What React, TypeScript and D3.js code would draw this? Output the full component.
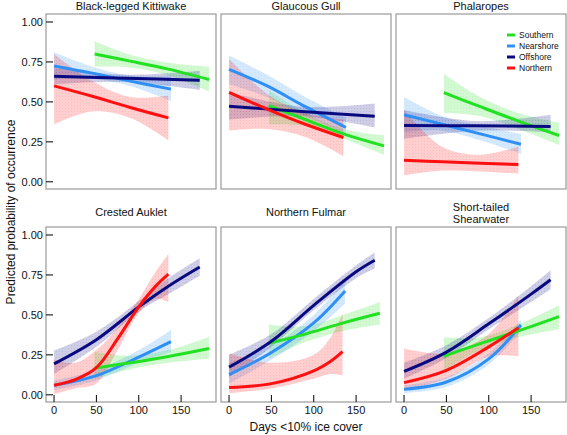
import React from "react";
import * as d3 from "d3";

// ---- Data: [day, fit, lower, upper] ----
const panelTitles = [
  ["Black-legged Kittiwake"],
  ["Glaucous Gull"],
  ["Phalaropes"],
  ["Crested Auklet"],
  ["Northern Fulmar"],
  ["Short-tailed", "Shearwater"],
];
const regions = ["Southern", "Nearshore", "Offshore", "Northern"];
const regionColors = ["#22e022", "#2f8ff5", "#0a0a80", "#ff1010"];
const yTicks = [0, 0.25, 0.5, 0.75, 1];
const xTicks = [0, 50, 100, 150];

// Black-legged Kittiwake
const kittiwakeSouthern = [[48, 0.8, 0.72, 0.88], [90, 0.755, 0.715, 0.795], [135, 0.705, 0.665, 0.745], [183, 0.64, 0.565, 0.72]];
const kittiwakeNearshore = [[0, 0.725, 0.64, 0.81], [45, 0.68, 0.645, 0.72], [90, 0.63, 0.6, 0.665], [138, 0.58, 0.505, 0.66]];
const kittiwakeOffshore = [[0, 0.66, 0.61, 0.71], [86, 0.648, 0.625, 0.67], [172, 0.635, 0.575, 0.695]];
const kittiwakeNorthern = [[0, 0.6, 0.36, 0.8], [45, 0.535, 0.44, 0.63], [90, 0.465, 0.4, 0.53], [135, 0.4, 0.26, 0.54]];

// Glaucous Gull
const gullSouthern = [[47, 0.477, 0.36, 0.575], [90, 0.39, 0.35, 0.43], [135, 0.3, 0.27, 0.33], [183, 0.225, 0.17, 0.29]];
const gullNearshore = [[0, 0.704, 0.61, 0.79], [45, 0.6, 0.53, 0.67], [90, 0.47, 0.41, 0.53], [138, 0.34, 0.3, 0.4]];
const gullOffshore = [[0, 0.473, 0.39, 0.56], [86, 0.44, 0.41, 0.47], [172, 0.41, 0.34, 0.49]];
const gullNorthern = [[0, 0.56, 0.32, 0.77], [45, 0.455, 0.33, 0.55], [90, 0.36, 0.28, 0.43], [135, 0.277, 0.16, 0.39]];

// Phalaropes
const phalaropeSouthern = [[47, 0.558, 0.43, 0.675], [90, 0.47, 0.41, 0.53], [135, 0.38, 0.33, 0.43], [183, 0.29, 0.23, 0.37]];
const phalaropeNearshore = [[0, 0.42, 0.31, 0.53], [45, 0.36, 0.32, 0.41], [90, 0.3, 0.26, 0.35], [138, 0.235, 0.175, 0.3]];
const phalaropeOffshore = [[0, 0.352, 0.27, 0.45], [86, 0.35, 0.32, 0.38], [173, 0.346, 0.31, 0.42]];
const phalaropeNorthern = [[0, 0.135, 0.04, 0.45], [45, 0.125, 0.07, 0.22], [90, 0.116, 0.065, 0.17], [135, 0.108, 0.05, 0.22]];

// Crested Auklet
const aukletSouthern = [[47.6, 0.167, 0.1, 0.27], [90, 0.2, 0.16, 0.245], [135, 0.24, 0.2, 0.28], [183, 0.29, 0.225, 0.364]];
const aukletNearshore = [[0, 0.059, 0.03, 0.09], [50, 0.12, 0.09, 0.155], [100, 0.236, 0.2, 0.28], [138, 0.333, 0.267, 0.406]];
const aukletOffshore = [[0, 0.194, 0.13, 0.277], [50, 0.345, 0.3, 0.395], [100, 0.55, 0.52, 0.585], [135, 0.68, 0.63, 0.73], [172, 0.8, 0.745, 0.855]];
const aukletNorthern = [[0, 0.06, 0.005, 0.22], [25, 0.095, 0.04, 0.2], [50, 0.17, 0.07, 0.28], [75, 0.35, 0.28, 0.42], [100, 0.55, 0.51, 0.6], [120, 0.68, 0.6, 0.77], [135, 0.755, 0.58, 0.88]];

// Northern Fulmar
const fulmarSouthern = [[47, 0.323, 0.225, 0.44], [90, 0.38, 0.33, 0.43], [135, 0.45, 0.4, 0.5], [178, 0.51, 0.44, 0.58]];
const fulmarNearshore = [[0, 0.126, 0.07, 0.2], [50, 0.265, 0.22, 0.31], [100, 0.45, 0.4, 0.5], [137, 0.65, 0.57, 0.72]];
const fulmarOffshore = [[0, 0.173, 0.11, 0.25], [50, 0.335, 0.3, 0.38], [100, 0.56, 0.53, 0.6], [150, 0.77, 0.73, 0.81], [172, 0.842, 0.79, 0.89]];
const fulmarNorthern = [[0, 0.045, 0.01, 0.26], [50, 0.07, 0.04, 0.2], [100, 0.15, 0.1, 0.25], [120, 0.21, 0.13, 0.36], [134, 0.27, 0.12, 0.505]];

// Short-tailed Shearwater
const shearwaterSouthern = [[47, 0.242, 0.15, 0.36], [90, 0.32, 0.28, 0.36], [135, 0.4, 0.36, 0.44], [183, 0.489, 0.41, 0.56]];
const shearwaterNearshore = [[0, 0.034, 0.01, 0.06], [50, 0.08, 0.05, 0.11], [100, 0.225, 0.19, 0.26], [138, 0.437, 0.4, 0.47]];
const shearwaterOffshore = [[0, 0.146, 0.1, 0.2], [50, 0.267, 0.23, 0.31], [100, 0.444, 0.41, 0.48], [150, 0.63, 0.58, 0.68], [173, 0.72, 0.66, 0.78]];
const shearwaterNorthern = [[0, 0.076, 0.03, 0.29], [50, 0.153, 0.1, 0.26], [100, 0.3, 0.24, 0.38], [135, 0.42, 0.24, 0.62]];

const panelSeries = [
  [kittiwakeSouthern, kittiwakeNearshore, kittiwakeOffshore, kittiwakeNorthern],
  [gullSouthern, gullNearshore, gullOffshore, gullNorthern],
  [phalaropeSouthern, phalaropeNearshore, phalaropeOffshore, phalaropeNorthern],
  [aukletSouthern, aukletNearshore, aukletOffshore, aukletNorthern],
  [fulmarSouthern, fulmarNearshore, fulmarOffshore, fulmarNorthern],
  [shearwaterSouthern, shearwaterNearshore, shearwaterOffshore, shearwaterNorthern],
];

// ---- Layout ----
const W = 567, H = 435;
const colLeft = [46, 221, 396];
const rowTop = [14, 227];
const PW = 170, PH = 175;
const FONT = "'Liberation Sans', Arial, Helvetica, sans-serif";
const lineOrder = [1, 0, 2, 3];

const x = d3.scaleLinear().domain([-9.5, 191.2]).range([0, PW]);
const y = d3.scaleLinear().domain([-0.045, 1.05]).range([PH, 0]);

const line = d3.line<number[]>().x(p => x(p[0])).y(p => y(p[1])).curve(d3.curveCatmullRom.alpha(0.5));
const band = d3.area<number[]>().x(p => x(p[0])).y0(p => y(p[2])).y1(p => y(p[3])).curve(d3.curveCatmullRom.alpha(0.5));

function Panel({ idx }: { idx: number }) {
  const col = idx % 3, row = Math.floor(idx / 3);
  const tx = colLeft[col], ty = rowTop[row];
  const series = panelSeries[idx];
  const title = panelTitles[idx];
  return (
    <g transform={`translate(${tx},${ty})`}>
      {title.length === 1 ? (
        <text x={PW / 2} y={row === 0 ? -4 : -11} textAnchor="middle" fontSize={11} fill="#111">{title[0]}</text>
      ) : (
        <text x={PW / 2} y={-16} textAnchor="middle" fontSize={11} fill="#111">
          <tspan x={PW / 2} dy={0}>{title[0]}</tspan>
          <tspan x={PW / 2} dy={12}>{title[1]}</tspan>
        </text>
      )}
      <g clipPath="url(#panelClip)">
        {series.map((s, i) => (
          <path key={"b" + i} d={band(s) || ""} fill={`url(#dots${i})`} stroke="none" />
        ))}
        {lineOrder.map(i => (
          <path key={"l" + i} d={line(series[i]) || ""} fill="none" stroke={regionColors[i]} strokeWidth={3} />
        ))}
      </g>
      <rect x={0} y={0} width={PW} height={PH} fill="none" stroke="#9a9a9a" strokeWidth={1.2} />
      {col === 0 && yTicks.map(t => (
        <g key={"yt" + t}>
          <line x1={0} x2={7} y1={y(t)} y2={y(t)} stroke="#000" strokeWidth={1} />
          <text x={-3} y={y(t) + 4} textAnchor="end" fontSize={11} fill="#111">{t.toFixed(2)}</text>
        </g>
      ))}
      {row === 1 && xTicks.map(t => (
        <g key={"xt" + t}>
          <line x1={x(t)} x2={x(t)} y1={PH} y2={PH - 7} stroke="#000" strokeWidth={1} />
          <text x={x(t)} y={PH + 12} textAnchor="middle" fontSize={11} fill="#111">{t}</text>
        </g>
      ))}
      {idx === 2 && regions.map((r, i) => (
        <g key={"lg" + r} transform={`translate(111,${21 + i * 11})`}>
          <line x1={0} x2={8} y1={0} y2={0} stroke={regionColors[i]} strokeWidth={3} />
          <text x={12} y={3} fontSize={8.5} fill="#111">{r}</text>
        </g>
      ))}
    </g>
  );
}

export default function App() {
  return (
    <svg width={W} height={H} style={{ position: "absolute", left: 0, top: 0, background: "#fff" }} fontFamily={FONT}>
      <defs>
        <clipPath id="panelClip">
          <rect x={0} y={0} width={PW} height={PH} />
        </clipPath>
        {regionColors.map((c, i) => (
          <pattern key={i} id={`dots${i}`} width={3} height={3} patternUnits="userSpaceOnUse">
            <rect width={3} height={3} fill={c} fillOpacity={0.2} />
            <circle cx={1.5} cy={1.5} r={0.45} fill={c} fillOpacity={0.2} />
          </pattern>
        ))}
      </defs>
      <rect width={W} height={H} fill="#fff" />
      {panelSeries.map((_, i) => <Panel key={i} idx={i} />)}
      <text transform={`translate(15,212) rotate(-90)`} textAnchor="middle" fontSize={12} fill="#111">Predicted probability of occurrence</text>
      <text x={306} y={431} textAnchor="middle" fontSize={12} fill="#111">Days &lt;10% ice cover</text>
    </svg>
  );
}
